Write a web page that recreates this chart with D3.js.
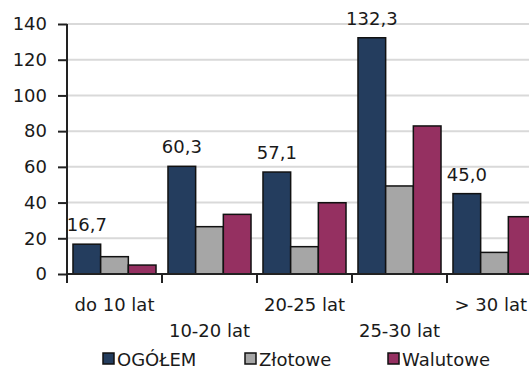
<!DOCTYPE html>
<html><head><meta charset="utf-8">
<script src="https://cdn.jsdelivr.net/npm/d3@7"></script>
<style>body{margin:0;background:#fff}svg{display:block}text{font-family:"DejaVu Sans",Verdana,sans-serif;fill:#1a1a1a}</style>
</head><body><svg id="c" width="529" height="370"></svg>
<script>
const categories = ["do 10 lat","10-20 lat","20-25 lat","25-30 lat","> 30 lat"];
const seriesNames = ["OGÓŁEM","Złotowe","Walutowe"];
const ogolem = [16.7, 60.3, 57.1, 132.3, 45.0];
const zlotowe = [9.7, 26.5, 15.3, 49.3, 12.1];
const walutowe = [5.0, 33.4, 39.9, 82.9, 32.1];
const yTicks = [0,20,40,60,80,100,120,140];
const colors = ["#243d5e","#a6a6a6","#953061"];
const seriesValues = [ogolem, zlotowe, walutowe];

const svg = d3.select("#c");
const fs = 18;
const x0 = d3.scaleBand().domain(categories).range([67, 67+5*95]).paddingInner(0.126).paddingOuter(0.063);
const x1 = d3.scaleBand().domain(seriesNames).range([0, x0.bandwidth()]).padding(0);
const y = d3.scaleLinear().domain([0,140]).range([274,24]);

// gridlines
svg.append("g").selectAll("line").data(yTicks.filter(d=>d>0)).join("line")
  .attr("x1",67).attr("x2",529).attr("y1",d=>y(d)).attr("y2",d=>y(d))
  .attr("stroke","#d9d9d9").attr("stroke-width",2);

// bars
const g = svg.append("g");
categories.forEach((c,i)=>{
  seriesNames.forEach((s,j)=>{
    const v = seriesValues[j][i];
    g.append("rect").attr("x",x0(c)+x1(s)).attr("y",y(v))
      .attr("width",x1.bandwidth()).attr("height",y(0)-y(v))
      .attr("fill",colors[j]).attr("stroke","#111").attr("stroke-width",1.5);
  });
});

// y axis
const yAxis = d3.axisLeft(y).tickValues(yTicks).tickSize(9).tickPadding(11).tickFormat(d3.format("d"));
const ya = svg.append("g").attr("transform","translate(67,0)").call(yAxis);
ya.select(".domain").attr("stroke","#222").attr("stroke-width",2).attr("d","M0,24V283");
ya.selectAll(".tick line").attr("stroke","#222").attr("stroke-width",2);
ya.selectAll(".tick text").style("font-size",fs+"px").attr("fill","#1a1a1a").style("font-family","DejaVu Sans");

// x axis line and boundary ticks
svg.append("line").attr("x1",67).attr("x2",529).attr("y1",y(0)).attr("y2",y(0)).attr("stroke","#222").attr("stroke-width",2);
const bounds = d3.range(categories.length+1).map(i=>67+i*x0.step());
svg.append("g").selectAll("line").data(bounds).join("line")
  .attr("x1",d=>d).attr("x2",d=>d).attr("y1",y(0)).attr("y2",y(0)+9)
  .attr("stroke","#222").attr("stroke-width",2);

// category labels (staggered)
svg.append("g").selectAll("text").data(categories).join("text")
  .attr("x",d=>x0(d)+x0.bandwidth()/2).attr("y",(d,i)=> i%2===0 ? 311 : 337)
  .attr("text-anchor","middle").style("font-size",fs+"px").text(d=>d)
  .each(function(){
    const w = this.getComputedTextLength();
    const cx = +this.getAttribute("x");
    if (cx + w/2 > 527) this.setAttribute("x", 527 - w/2);
  });

// data labels for OGÓŁEM
const fmt = d=>d3.format(".1f")(d).replace(".",",");
svg.append("g").selectAll("text").data(categories).join("text")
  .attr("x",d=>x0(d)+x1(seriesNames[0])+x1.bandwidth()/2)
  .attr("y",(d,i)=>y(ogolem[i])-13)
  .attr("text-anchor","middle").style("font-size",fs+"px").text((d,i)=>fmt(ogolem[i]));

// legend
const lx = [103,245,388];
const lg = svg.append("g");
seriesNames.forEach((s,j)=>{
  lg.append("rect").attr("x",lx[j]).attr("y",353).attr("width",11).attr("height",11)
    .attr("fill",colors[j]).attr("stroke","#111").attr("stroke-width",1.5);
  lg.append("text").attr("x",lx[j]+14).attr("y",366).style("font-size",fs+"px").text(s);
});
</script></body></html>
